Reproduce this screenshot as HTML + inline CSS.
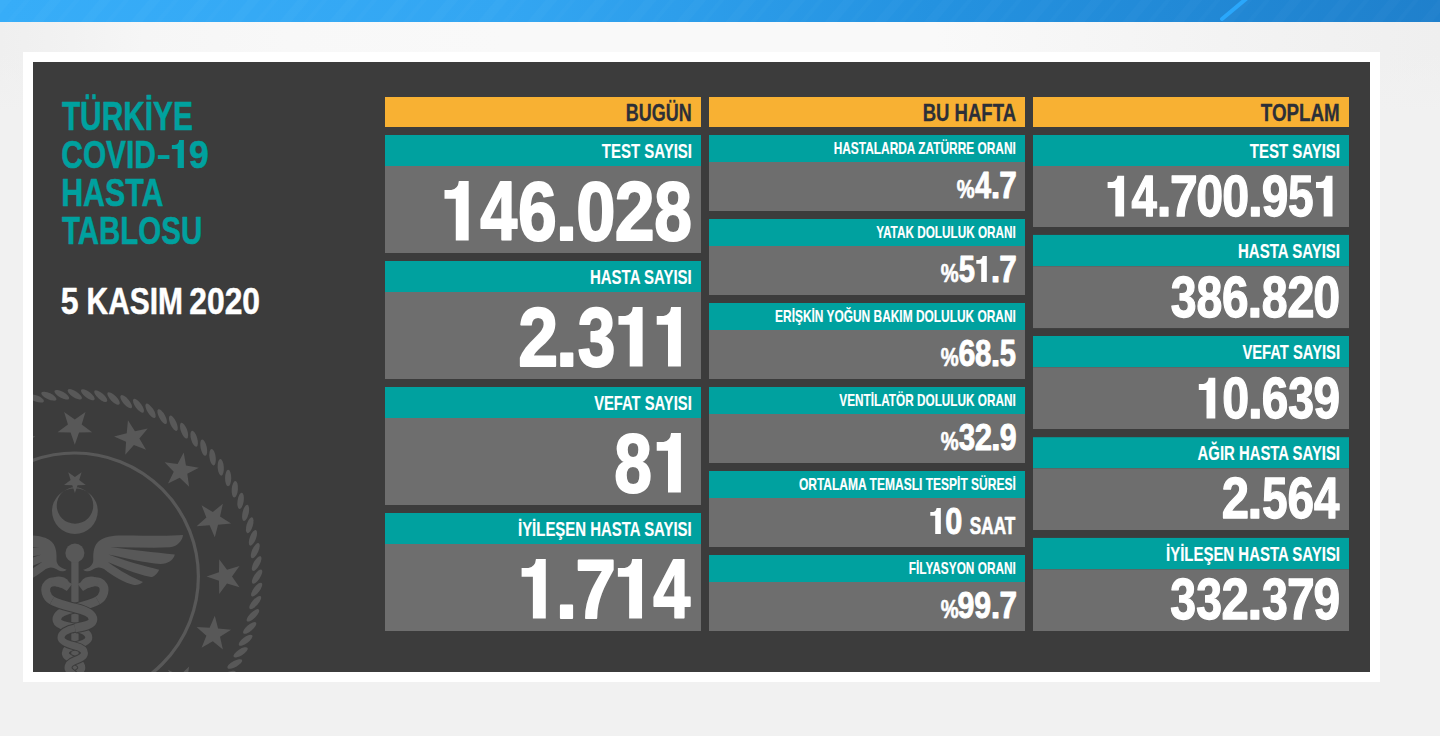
<!DOCTYPE html>
<html><head><meta charset="utf-8"><style>
html,body{margin:0;padding:0;width:1440px;height:736px;overflow:hidden;background:#f1f1f1;font-family:"Liberation Sans",sans-serif}
svg{display:block}
</style></head><body>
<svg width="1440" height="736" viewBox="0 0 1440 736" font-family="Liberation Sans" font-weight="bold">
<defs>
<linearGradient id="bar" x1="0" y1="0" x2="1" y2="0">
<stop offset="0" stop-color="#37adf8"/><stop offset="0.35" stop-color="#33a6f2"/><stop offset="0.65" stop-color="#2492e0"/><stop offset="1" stop-color="#1f80cc"/>
</linearGradient>
<linearGradient id="pg" x1="0" y1="0" x2="1" y2="0">
<stop offset="0" stop-color="#efefef"/><stop offset="0.05" stop-color="#f2f2f2"/><stop offset="0.1" stop-color="#f6f6f6"/><stop offset="0.2" stop-color="#f8f8f8"/><stop offset="0.35" stop-color="#f9f9f9"/><stop offset="0.65" stop-color="#f9f9f9"/><stop offset="0.75" stop-color="#f6f6f6"/><stop offset="0.85" stop-color="#f3f3f3"/><stop offset="1" stop-color="#efefef"/>
</linearGradient>
<linearGradient id="pgv" x1="0" y1="0" x2="0" y2="1">
<stop offset="0" stop-color="#f1f1f1" stop-opacity="0"/><stop offset="1" stop-color="#f1f1f1" stop-opacity="1"/>
</linearGradient>
<pattern id="stripes" patternUnits="userSpaceOnUse" width="38" height="38" patternTransform="rotate(40)">
<rect x="0" y="0" width="9" height="38" fill="#ffffff" fill-opacity="0.02"/><rect x="19" y="0" width="4" height="38" fill="#ffffff" fill-opacity="0.015"/>
</pattern>
<clipPath id="panel"><rect x="33" y="62" width="1337" height="610"/></clipPath>
</defs>
<rect x="0" y="0" width="1440" height="736" fill="#f1f1f1"/>
<rect x="0" y="21" width="1440" height="90" fill="url(#pg)"/>
<rect x="0" y="52" width="1440" height="60" fill="url(#pgv)"/>
<rect x="0" y="0" width="1440" height="22" fill="url(#bar)"/>
<rect x="0" y="0" width="1440" height="22" fill="url(#stripes)"/>
<line x1="1222" y1="19" x2="1246" y2="-1" stroke="#2aa7fb" stroke-width="4" stroke-linecap="round"/>
<rect x="23" y="52" width="1357" height="630" fill="#ffffff"/>
<rect x="33" y="62" width="1337" height="610" fill="#3c3c3c"/>
<g clip-path="url(#panel)"><g fill="#585858"><ellipse cx="257.10" cy="576.60" rx="8.3" ry="3.1" transform="rotate(123.00 257.10 576.60)"/><ellipse cx="256.64" cy="589.61" rx="8.3" ry="3.1" transform="rotate(127.09 256.64 589.61)"/><ellipse cx="255.24" cy="602.54" rx="8.3" ry="3.1" transform="rotate(131.18 255.24 602.54)"/><ellipse cx="252.93" cy="615.35" rx="8.3" ry="3.1" transform="rotate(135.27 252.93 615.35)"/><ellipse cx="249.72" cy="627.96" rx="8.3" ry="3.1" transform="rotate(139.36 249.72 627.96)"/><ellipse cx="245.61" cy="640.31" rx="8.3" ry="3.1" transform="rotate(143.45 245.61 640.31)"/><ellipse cx="240.63" cy="652.33" rx="8.3" ry="3.1" transform="rotate(147.55 240.63 652.33)"/><ellipse cx="234.80" cy="663.97" rx="8.3" ry="3.1" transform="rotate(151.64 234.80 663.97)"/><ellipse cx="228.16" cy="675.16" rx="8.3" ry="3.1" transform="rotate(155.73 228.16 675.16)"/><ellipse cx="220.74" cy="685.85" rx="8.3" ry="3.1" transform="rotate(159.82 220.74 685.85)"/><ellipse cx="212.57" cy="695.98" rx="8.3" ry="3.1" transform="rotate(163.91 212.57 695.98)"/><ellipse cx="203.71" cy="705.51" rx="8.3" ry="3.1" transform="rotate(168.00 203.71 705.51)"/><ellipse cx="194.18" cy="714.37" rx="8.3" ry="3.1" transform="rotate(172.09 194.18 714.37)"/><ellipse cx="184.05" cy="722.54" rx="8.3" ry="3.1" transform="rotate(176.18 184.05 722.54)"/><ellipse cx="173.36" cy="729.96" rx="8.3" ry="3.1" transform="rotate(180.27 173.36 729.96)"/><ellipse cx="162.17" cy="736.60" rx="8.3" ry="3.1" transform="rotate(184.36 162.17 736.60)"/><ellipse cx="150.53" cy="742.43" rx="8.3" ry="3.1" transform="rotate(188.45 150.53 742.43)"/><ellipse cx="138.51" cy="747.41" rx="8.3" ry="3.1" transform="rotate(192.55 138.51 747.41)"/><ellipse cx="126.16" cy="751.52" rx="8.3" ry="3.1" transform="rotate(196.64 126.16 751.52)"/><ellipse cx="113.55" cy="754.73" rx="8.3" ry="3.1" transform="rotate(200.73 113.55 754.73)"/><ellipse cx="100.74" cy="757.04" rx="8.3" ry="3.1" transform="rotate(204.82 100.74 757.04)"/><ellipse cx="87.81" cy="758.44" rx="8.3" ry="3.1" transform="rotate(208.91 87.81 758.44)"/><ellipse cx="74.80" cy="758.90" rx="8.3" ry="3.1" transform="rotate(213.00 74.80 758.90)"/><ellipse cx="61.79" cy="758.44" rx="8.3" ry="3.1" transform="rotate(217.09 61.79 758.44)"/><ellipse cx="48.86" cy="757.04" rx="8.3" ry="3.1" transform="rotate(221.18 48.86 757.04)"/><ellipse cx="36.05" cy="754.73" rx="8.3" ry="3.1" transform="rotate(225.27 36.05 754.73)"/><ellipse cx="23.44" cy="751.52" rx="8.3" ry="3.1" transform="rotate(229.36 23.44 751.52)"/><ellipse cx="11.09" cy="747.41" rx="8.3" ry="3.1" transform="rotate(233.45 11.09 747.41)"/><ellipse cx="-0.93" cy="742.43" rx="8.3" ry="3.1" transform="rotate(237.55 -0.93 742.43)"/><ellipse cx="-12.57" cy="736.60" rx="8.3" ry="3.1" transform="rotate(241.64 -12.57 736.60)"/><ellipse cx="-23.76" cy="729.96" rx="8.3" ry="3.1" transform="rotate(245.73 -23.76 729.96)"/><ellipse cx="-34.45" cy="722.54" rx="8.3" ry="3.1" transform="rotate(249.82 -34.45 722.54)"/><ellipse cx="-44.58" cy="714.37" rx="8.3" ry="3.1" transform="rotate(253.91 -44.58 714.37)"/><ellipse cx="-54.11" cy="705.51" rx="8.3" ry="3.1" transform="rotate(258.00 -54.11 705.51)"/><ellipse cx="-62.97" cy="695.98" rx="8.3" ry="3.1" transform="rotate(262.09 -62.97 695.98)"/><ellipse cx="-71.14" cy="685.85" rx="8.3" ry="3.1" transform="rotate(266.18 -71.14 685.85)"/><ellipse cx="-78.56" cy="675.16" rx="8.3" ry="3.1" transform="rotate(270.27 -78.56 675.16)"/><ellipse cx="-85.20" cy="663.97" rx="8.3" ry="3.1" transform="rotate(274.36 -85.20 663.97)"/><ellipse cx="-91.03" cy="652.33" rx="8.3" ry="3.1" transform="rotate(278.45 -91.03 652.33)"/><ellipse cx="-96.01" cy="640.31" rx="8.3" ry="3.1" transform="rotate(282.55 -96.01 640.31)"/><ellipse cx="-100.12" cy="627.96" rx="8.3" ry="3.1" transform="rotate(286.64 -100.12 627.96)"/><ellipse cx="-103.33" cy="615.35" rx="8.3" ry="3.1" transform="rotate(290.73 -103.33 615.35)"/><ellipse cx="-105.64" cy="602.54" rx="8.3" ry="3.1" transform="rotate(294.82 -105.64 602.54)"/><ellipse cx="-107.04" cy="589.61" rx="8.3" ry="3.1" transform="rotate(298.91 -107.04 589.61)"/><ellipse cx="-107.50" cy="576.60" rx="8.3" ry="3.1" transform="rotate(303.00 -107.50 576.60)"/><ellipse cx="-107.04" cy="563.59" rx="8.3" ry="3.1" transform="rotate(307.09 -107.04 563.59)"/><ellipse cx="-105.64" cy="550.66" rx="8.3" ry="3.1" transform="rotate(311.18 -105.64 550.66)"/><ellipse cx="-103.33" cy="537.85" rx="8.3" ry="3.1" transform="rotate(315.27 -103.33 537.85)"/><ellipse cx="-100.12" cy="525.24" rx="8.3" ry="3.1" transform="rotate(319.36 -100.12 525.24)"/><ellipse cx="-96.01" cy="512.89" rx="8.3" ry="3.1" transform="rotate(323.45 -96.01 512.89)"/><ellipse cx="-91.03" cy="500.87" rx="8.3" ry="3.1" transform="rotate(327.55 -91.03 500.87)"/><ellipse cx="-85.20" cy="489.23" rx="8.3" ry="3.1" transform="rotate(331.64 -85.20 489.23)"/><ellipse cx="-78.56" cy="478.04" rx="8.3" ry="3.1" transform="rotate(335.73 -78.56 478.04)"/><ellipse cx="-71.14" cy="467.35" rx="8.3" ry="3.1" transform="rotate(339.82 -71.14 467.35)"/><ellipse cx="-62.97" cy="457.22" rx="8.3" ry="3.1" transform="rotate(343.91 -62.97 457.22)"/><ellipse cx="-54.11" cy="447.69" rx="8.3" ry="3.1" transform="rotate(348.00 -54.11 447.69)"/><ellipse cx="-44.58" cy="438.83" rx="8.3" ry="3.1" transform="rotate(352.09 -44.58 438.83)"/><ellipse cx="-34.45" cy="430.66" rx="8.3" ry="3.1" transform="rotate(356.18 -34.45 430.66)"/><ellipse cx="-23.76" cy="423.24" rx="8.3" ry="3.1" transform="rotate(360.27 -23.76 423.24)"/><ellipse cx="-12.57" cy="416.60" rx="8.3" ry="3.1" transform="rotate(364.36 -12.57 416.60)"/><ellipse cx="-0.93" cy="410.77" rx="8.3" ry="3.1" transform="rotate(368.45 -0.93 410.77)"/><ellipse cx="11.09" cy="405.79" rx="8.3" ry="3.1" transform="rotate(372.55 11.09 405.79)"/><ellipse cx="23.44" cy="401.68" rx="8.3" ry="3.1" transform="rotate(376.64 23.44 401.68)"/><ellipse cx="36.05" cy="398.47" rx="8.3" ry="3.1" transform="rotate(380.73 36.05 398.47)"/><ellipse cx="48.86" cy="396.16" rx="8.3" ry="3.1" transform="rotate(384.82 48.86 396.16)"/><ellipse cx="61.79" cy="394.76" rx="8.3" ry="3.1" transform="rotate(388.91 61.79 394.76)"/><ellipse cx="74.80" cy="394.30" rx="8.3" ry="3.1" transform="rotate(393.00 74.80 394.30)"/><ellipse cx="87.81" cy="394.76" rx="8.3" ry="3.1" transform="rotate(397.09 87.81 394.76)"/><ellipse cx="100.74" cy="396.16" rx="8.3" ry="3.1" transform="rotate(401.18 100.74 396.16)"/><ellipse cx="113.55" cy="398.47" rx="8.3" ry="3.1" transform="rotate(405.27 113.55 398.47)"/><ellipse cx="126.16" cy="401.68" rx="8.3" ry="3.1" transform="rotate(409.36 126.16 401.68)"/><ellipse cx="138.51" cy="405.79" rx="8.3" ry="3.1" transform="rotate(413.45 138.51 405.79)"/><ellipse cx="150.53" cy="410.77" rx="8.3" ry="3.1" transform="rotate(417.55 150.53 410.77)"/><ellipse cx="162.17" cy="416.60" rx="8.3" ry="3.1" transform="rotate(421.64 162.17 416.60)"/><ellipse cx="173.36" cy="423.24" rx="8.3" ry="3.1" transform="rotate(425.73 173.36 423.24)"/><ellipse cx="184.05" cy="430.66" rx="8.3" ry="3.1" transform="rotate(429.82 184.05 430.66)"/><ellipse cx="194.18" cy="438.83" rx="8.3" ry="3.1" transform="rotate(433.91 194.18 438.83)"/><ellipse cx="203.71" cy="447.69" rx="8.3" ry="3.1" transform="rotate(438.00 203.71 447.69)"/><ellipse cx="212.57" cy="457.22" rx="8.3" ry="3.1" transform="rotate(442.09 212.57 457.22)"/><ellipse cx="220.74" cy="467.35" rx="8.3" ry="3.1" transform="rotate(446.18 220.74 467.35)"/><ellipse cx="228.16" cy="478.04" rx="8.3" ry="3.1" transform="rotate(450.27 228.16 478.04)"/><ellipse cx="234.80" cy="489.23" rx="8.3" ry="3.1" transform="rotate(454.36 234.80 489.23)"/><ellipse cx="240.63" cy="500.87" rx="8.3" ry="3.1" transform="rotate(458.45 240.63 500.87)"/><ellipse cx="245.61" cy="512.89" rx="8.3" ry="3.1" transform="rotate(462.55 245.61 512.89)"/><ellipse cx="249.72" cy="525.24" rx="8.3" ry="3.1" transform="rotate(466.64 249.72 525.24)"/><ellipse cx="252.93" cy="537.85" rx="8.3" ry="3.1" transform="rotate(470.73 252.93 537.85)"/><ellipse cx="255.24" cy="550.66" rx="8.3" ry="3.1" transform="rotate(474.82 255.24 550.66)"/><ellipse cx="256.64" cy="563.59" rx="8.3" ry="3.1" transform="rotate(478.91 256.64 563.59)"/><circle cx="74.8" cy="576.6" r="123.6" fill="none" stroke="#585858" stroke-width="3.2"/><polygon points="74.80,444.80 70.57,432.42 57.49,432.22 67.95,424.38 64.10,411.88 74.80,419.40 85.50,411.88 81.65,424.38 92.11,432.22 79.03,432.42"/><polygon points="125.24,454.83 126.06,441.78 114.06,436.59 126.73,433.34 127.95,420.32 134.96,431.37 147.72,428.51 139.38,438.58 146.04,449.84 133.88,445.02"/><polygon points="168.00,483.40 173.75,471.66 164.65,462.27 177.60,464.12 183.71,452.56 185.96,465.44 198.84,467.69 187.28,473.80 189.13,486.75 179.74,477.65"/><polygon points="196.57,526.16 206.38,517.52 201.56,505.36 212.82,512.02 222.89,503.68 220.03,516.44 231.08,523.45 218.06,524.67 214.81,537.34 209.62,525.34"/><polygon points="206.60,576.60 218.98,572.37 219.18,559.29 227.02,569.75 239.52,565.90 232.00,576.60 239.52,587.30 227.02,583.45 219.18,593.91 218.98,580.83"/><polygon points="196.57,627.04 209.62,627.86 214.81,615.86 218.06,628.53 231.08,629.75 220.03,636.76 222.89,649.52 212.82,641.18 201.56,647.84 206.38,635.68"/><polygon points="168.00,669.80 179.74,675.55 189.13,666.45 187.28,679.40 198.84,685.51 185.96,687.76 183.71,700.64 177.60,689.08 164.65,690.93 173.75,681.54"/><polygon points="125.24,698.37 133.88,708.18 146.04,703.36 139.38,714.62 147.72,724.69 134.96,721.83 127.95,732.88 126.73,719.86 114.06,716.61 126.06,711.42"/><polygon points="74.80,708.40 79.03,720.78 92.11,720.98 81.65,728.82 85.50,741.32 74.80,733.80 64.10,741.32 67.95,728.82 57.49,720.98 70.57,720.78"/><polygon points="24.36,698.37 23.54,711.42 35.54,716.61 22.87,719.86 21.65,732.88 14.64,721.83 1.88,724.69 10.22,714.62 3.56,703.36 15.72,708.18"/><polygon points="-18.40,669.80 -24.15,681.54 -15.05,690.93 -28.00,689.08 -34.11,700.64 -36.36,687.76 -49.24,685.51 -37.68,679.40 -39.53,666.45 -30.14,675.55"/><polygon points="-46.97,627.04 -56.78,635.68 -51.96,647.84 -63.22,641.18 -73.29,649.52 -70.43,636.76 -81.48,629.75 -68.46,628.53 -65.21,615.86 -60.02,627.86"/><polygon points="-57.00,576.60 -69.38,580.83 -69.58,593.91 -77.42,583.45 -89.92,587.30 -82.40,576.60 -89.92,565.90 -77.42,569.75 -69.58,559.29 -69.38,572.37"/><polygon points="-46.97,526.16 -60.02,525.34 -65.21,537.34 -68.46,524.67 -81.48,523.45 -70.43,516.44 -73.29,503.68 -63.22,512.02 -51.96,505.36 -56.78,517.52"/><polygon points="-18.40,483.40 -30.14,477.65 -39.53,486.75 -37.68,473.80 -49.24,467.69 -36.36,465.44 -34.11,452.56 -28.00,464.12 -15.05,462.27 -24.15,471.66"/><polygon points="24.36,454.83 15.72,445.02 3.56,449.84 10.22,438.58 1.88,428.51 14.64,431.37 21.65,420.32 22.87,433.34 35.54,436.59 23.54,441.78"/><polygon points="74.90,492.90 72.25,485.14 64.06,485.02 70.62,480.11 68.20,472.28 74.90,477.00 81.60,472.28 79.18,480.11 85.74,485.02 77.55,485.14"/><path fill-rule="evenodd" d="M 52.0 511.1 A 22.9 22.9 0 1 0 97.8 511.1 A 22.9 22.9 0 1 0 52.0 511.1 Z M 56.75 505.5 A 18.25 18.25 0 1 0 93.25 505.5 A 18.25 18.25 0 1 0 56.75 505.5 Z"/><rect x="71.3" y="555" width="7.3" height="130"/><circle cx="74.9" cy="553" r="9.5"/><path d="M 83.1,569.7 C 89,568.5 93.5,565 93.3,559.5 C 93,552 94,545 99,541 C 104,537 112,535.5 121,535.4 C 140,535.2 165,536.5 183,535 C 182.5,541 177,546.5 170,547.3 C 150,548.5 130,546.8 110.2,547.3 C 130,549.5 155,552.5 174.8,554.5 C 174,559.5 168,564 160.6,564 C 145,563 125,558 108.3,554.5 C 125,561 145,566 159.1,569.7 C 157.5,573.5 154,576.8 151,577.1 C 135,574 120,567 107.8,562.1 C 120,571 133,578 143,582 C 140.5,584.5 137,585.2 134,584.9 C 125,583.5 113,576 104,569 C 100,566.5 96,567 92,570 C 89,572 85.5,571.5 83.1,569.7 Z"/><path d="M 83.1,569.7 C 89,568.5 93.5,565 93.3,559.5 C 93,552 94,545 99,541 C 104,537 112,535.5 121,535.4 C 140,535.2 165,536.5 183,535 C 182.5,541 177,546.5 170,547.3 C 150,548.5 130,546.8 110.2,547.3 C 130,549.5 155,552.5 174.8,554.5 C 174,559.5 168,564 160.6,564 C 145,563 125,558 108.3,554.5 C 125,561 145,566 159.1,569.7 C 157.5,573.5 154,576.8 151,577.1 C 135,574 120,567 107.8,562.1 C 120,571 133,578 143,582 C 140.5,584.5 137,585.2 134,584.9 C 125,583.5 113,576 104,569 C 100,566.5 96,567 92,570 C 89,572 85.5,571.5 83.1,569.7 Z" transform="translate(149.8,0) scale(-1,1)"/><path d="M 52 600.5 C 59 604.5, 67 606, 75 608 C 84 610, 93 613.5, 93 619.5 C 93 625, 83 626.5, 75 628" fill="none" stroke="#3c3c3c" stroke-width="10.5" stroke-linecap="butt" transform="translate(149.8,0) scale(-1,1)"/><path d="M 75 628 C 67 629.5, 61 633, 61 637.5 C 61 642, 69 644.5, 75 646 C 81 647.5, 84.5 649.5, 84.5 653 C 84.5 657, 79 659, 75 660.5 C 71 662, 68 664.5, 68 668 C 68 671, 72 673, 75 676" fill="none" stroke="#3c3c3c" stroke-width="9" transform="translate(149.8,0) scale(-1,1)"/><path d="M 52 600.5 C 59 604.5, 67 606, 75 608 C 84 610, 93 613.5, 93 619.5 C 93 625, 83 626.5, 75 628" fill="none" stroke="#585858" stroke-width="8.6" stroke-linecap="butt" transform="translate(149.8,0) scale(-1,1)"/><path d="M 69.5 587.5 C 63 582.5, 53 579.5, 48 584 C 43.5 588.5, 46 597, 52 600.5" fill="none" stroke="#585858" stroke-width="8.8" stroke-linecap="butt" transform="translate(149.8,0) scale(-1,1)"/><path d="M 75 628 C 67 629.5, 61 633, 61 637.5 C 61 642, 69 644.5, 75 646 C 81 647.5, 84.5 649.5, 84.5 653 C 84.5 657, 79 659, 75 660.5 C 71 662, 68 664.5, 68 668 C 68 671, 72 673, 75 676" fill="none" stroke="#585858" stroke-width="7" transform="translate(149.8,0) scale(-1,1)"/><path d="M 52 600.5 C 59 604.5, 67 606, 75 608 C 84 610, 93 613.5, 93 619.5 C 93 625, 83 626.5, 75 628" fill="none" stroke="#3c3c3c" stroke-width="10.5" stroke-linecap="butt" /><path d="M 75 628 C 67 629.5, 61 633, 61 637.5 C 61 642, 69 644.5, 75 646 C 81 647.5, 84.5 649.5, 84.5 653 C 84.5 657, 79 659, 75 660.5 C 71 662, 68 664.5, 68 668 C 68 671, 72 673, 75 676" fill="none" stroke="#3c3c3c" stroke-width="9" /><path d="M 52 600.5 C 59 604.5, 67 606, 75 608 C 84 610, 93 613.5, 93 619.5 C 93 625, 83 626.5, 75 628" fill="none" stroke="#585858" stroke-width="8.6" stroke-linecap="butt" /><path d="M 69.5 587.5 C 63 582.5, 53 579.5, 48 584 C 43.5 588.5, 46 597, 52 600.5" fill="none" stroke="#585858" stroke-width="8.8" stroke-linecap="butt" /><path d="M 75 628 C 67 629.5, 61 633, 61 637.5 C 61 642, 69 644.5, 75 646 C 81 647.5, 84.5 649.5, 84.5 653 C 84.5 657, 79 659, 75 660.5 C 71 662, 68 664.5, 68 668 C 68 671, 72 673, 75 676" fill="none" stroke="#585858" stroke-width="7" /><ellipse cx="60" cy="582" rx="9" ry="5.3" transform="rotate(8 60 582)"/><ellipse cx="89.8" cy="582" rx="9" ry="5.3" transform="rotate(-8 89.8 582)"/></g></g>
<rect x="385" y="97" width="316" height="30" fill="#f8b133"/><rect x="709" y="97" width="316" height="30" fill="#f8b133"/><rect x="1033" y="97" width="316" height="30" fill="#f8b133"/><rect x="385" y="135" width="316" height="31" fill="#00a19f"/><rect x="385" y="166" width="316" height="87" fill="#6e6e6e"/><rect x="385" y="261" width="316" height="31" fill="#00a19f"/><rect x="385" y="292" width="316" height="87" fill="#6e6e6e"/><rect x="385" y="387" width="316" height="31" fill="#00a19f"/><rect x="385" y="418" width="316" height="87" fill="#6e6e6e"/><rect x="385" y="513" width="316" height="31" fill="#00a19f"/><rect x="385" y="544" width="316" height="87" fill="#6e6e6e"/><rect x="709" y="135" width="316" height="27" fill="#00a19f"/><rect x="709" y="162" width="316" height="49" fill="#6e6e6e"/><rect x="709" y="219" width="316" height="27" fill="#00a19f"/><rect x="709" y="246" width="316" height="49" fill="#6e6e6e"/><rect x="709" y="303" width="316" height="27" fill="#00a19f"/><rect x="709" y="330" width="316" height="49" fill="#6e6e6e"/><rect x="709" y="387" width="316" height="27" fill="#00a19f"/><rect x="709" y="414" width="316" height="49" fill="#6e6e6e"/><rect x="709" y="471" width="316" height="27" fill="#00a19f"/><rect x="709" y="498" width="316" height="49" fill="#6e6e6e"/><rect x="709" y="555" width="316" height="27" fill="#00a19f"/><rect x="709" y="582" width="316" height="49" fill="#6e6e6e"/><rect x="1033" y="135" width="316" height="31" fill="#00a19f"/><rect x="1033" y="166" width="316" height="61" fill="#6e6e6e"/><rect x="1033" y="234.9" width="316" height="31.3" fill="#00a19f"/><rect x="1033" y="266.2" width="316" height="61.9" fill="#6e6e6e"/><rect x="1033" y="336.0" width="316" height="31.2" fill="#00a19f"/><rect x="1033" y="367.2" width="316" height="61.8" fill="#6e6e6e"/><rect x="1033" y="437.2" width="316" height="31.1" fill="#00a19f"/><rect x="1033" y="468.3" width="316" height="61.7" fill="#6e6e6e"/><rect x="1033" y="537.9" width="316" height="31.4" fill="#00a19f"/><rect x="1033" y="569.3" width="316" height="61.7" fill="#6e6e6e"/>
<text x="61.90" y="129.70" font-size="39.86" textLength="130.97" lengthAdjust="spacingAndGlyphs" fill="#00a19f" stroke="#00a19f" stroke-width="0.60" stroke-linejoin="round">TÜRKİYE</text><text x="61.30" y="167.70" font-size="39.14" textLength="94.65" lengthAdjust="spacingAndGlyphs" fill="#00a19f" stroke="#00a19f" stroke-width="0.60" stroke-linejoin="round">COVID</text><text x="189.06" y="167.90" font-size="39.71" textLength="19.72" lengthAdjust="spacingAndGlyphs" fill="#00a19f" stroke="#00a19f" stroke-width="0.60" stroke-linejoin="round">9</text><text x="61.13" y="205.60" font-size="39.00" textLength="102.29" lengthAdjust="spacingAndGlyphs" fill="#00a19f" stroke="#00a19f" stroke-width="0.60" stroke-linejoin="round">HASTA</text><text x="61.91" y="243.70" font-size="39.29" textLength="140.28" lengthAdjust="spacingAndGlyphs" fill="#00a19f" stroke="#00a19f" stroke-width="0.60" stroke-linejoin="round">TABLOSU</text><text x="60.69" y="313.75" font-size="36.96" textLength="17.80" lengthAdjust="spacingAndGlyphs" fill="#ffffff" stroke="#ffffff" stroke-width="0.50" stroke-linejoin="round">5</text><text x="86.61" y="313.75" font-size="36.43" textLength="96.25" lengthAdjust="spacingAndGlyphs" fill="#ffffff" stroke="#ffffff" stroke-width="0.50" stroke-linejoin="round">KASIM</text><text x="189.34" y="313.75" font-size="36.43" textLength="70.67" lengthAdjust="spacingAndGlyphs" fill="#ffffff" stroke="#ffffff" stroke-width="0.50" stroke-linejoin="round">2020</text><text x="625.78" y="120.65" font-size="23.71" textLength="65.86" lengthAdjust="spacingAndGlyphs" fill="#2c2f38" stroke="#2c2f38" stroke-width="0.30" stroke-linejoin="round">BUGÜN</text><text x="922.70" y="120.65" font-size="23.91" textLength="93.34" lengthAdjust="spacingAndGlyphs" fill="#2c2f38" stroke="#2c2f38" stroke-width="0.30" stroke-linejoin="round">BU HAFTA</text><text x="1260.76" y="120.65" font-size="23.57" textLength="78.98" lengthAdjust="spacingAndGlyphs" fill="#2c2f38" stroke="#2c2f38" stroke-width="0.30" stroke-linejoin="round">TOPLAM</text><text x="601.83" y="157.93" font-size="20.36" textLength="90.18" lengthAdjust="spacingAndGlyphs" fill="#ffffff" stroke="#ffffff" stroke-width="0.15" stroke-linejoin="round">TEST SAYISI</text><text x="590.00" y="283.93" font-size="20.36" textLength="101.74" lengthAdjust="spacingAndGlyphs" fill="#ffffff" stroke="#ffffff" stroke-width="0.15" stroke-linejoin="round">HASTA SAYISI</text><text x="594.13" y="409.93" font-size="20.36" textLength="97.61" lengthAdjust="spacingAndGlyphs" fill="#ffffff" stroke="#ffffff" stroke-width="0.15" stroke-linejoin="round">VEFAT SAYISI</text><text x="518.00" y="535.92" font-size="20.36" textLength="173.73" lengthAdjust="spacingAndGlyphs" fill="#ffffff" stroke="#ffffff" stroke-width="0.15" stroke-linejoin="round">İYİLEŞEN HASTA SAYISI</text><text x="833.70" y="153.73" font-size="15.79" textLength="182.14" lengthAdjust="spacingAndGlyphs" fill="#ffffff" stroke="#ffffff" stroke-width="0.15" stroke-linejoin="round">HASTALARDA ZATÜRRE ORANI</text><text x="876.24" y="237.73" font-size="15.79" textLength="139.55" lengthAdjust="spacingAndGlyphs" fill="#ffffff" stroke="#ffffff" stroke-width="0.15" stroke-linejoin="round">YATAK DOLULUK ORANI</text><text x="775.10" y="321.73" font-size="15.79" textLength="240.75" lengthAdjust="spacingAndGlyphs" fill="#ffffff" stroke="#ffffff" stroke-width="0.15" stroke-linejoin="round">ERİŞKİN YOĞUN BAKIM DOLULUK ORANI</text><text x="839.36" y="405.73" font-size="15.79" textLength="176.44" lengthAdjust="spacingAndGlyphs" fill="#ffffff" stroke="#ffffff" stroke-width="0.15" stroke-linejoin="round">VENTİLATÖR DOLULUK ORANI</text><text x="798.89" y="489.73" font-size="15.79" textLength="216.92" lengthAdjust="spacingAndGlyphs" fill="#ffffff" stroke="#ffffff" stroke-width="0.15" stroke-linejoin="round">ORTALAMA TEMASLI TESPİT SÜRESİ</text><text x="908.81" y="573.72" font-size="15.79" textLength="107.04" lengthAdjust="spacingAndGlyphs" fill="#ffffff" stroke="#ffffff" stroke-width="0.15" stroke-linejoin="round">FİLYASYON ORANI</text><text x="956.75" y="197.85" font-size="25.47" textLength="17.89" lengthAdjust="spacingAndGlyphs" fill="#ffffff" stroke="#ffffff" stroke-width="0.70" stroke-linejoin="round">%</text><text x="940.75" y="281.85" font-size="25.47" textLength="17.89" lengthAdjust="spacingAndGlyphs" fill="#ffffff" stroke="#ffffff" stroke-width="0.70" stroke-linejoin="round">%</text><text x="940.75" y="365.85" font-size="25.47" textLength="17.89" lengthAdjust="spacingAndGlyphs" fill="#ffffff" stroke="#ffffff" stroke-width="0.70" stroke-linejoin="round">%</text><text x="940.75" y="449.85" font-size="25.47" textLength="17.89" lengthAdjust="spacingAndGlyphs" fill="#ffffff" stroke="#ffffff" stroke-width="0.70" stroke-linejoin="round">%</text><text x="940.75" y="617.85" font-size="25.47" textLength="17.89" lengthAdjust="spacingAndGlyphs" fill="#ffffff" stroke="#ffffff" stroke-width="0.70" stroke-linejoin="round">%</text><text x="969.83" y="533.65" font-size="24.57" textLength="45.55" lengthAdjust="spacingAndGlyphs" fill="#ffffff" stroke="#ffffff" stroke-width="0.70" stroke-linejoin="round">SAAT</text><text x="1249.83" y="157.83" font-size="20.21" textLength="90.18" lengthAdjust="spacingAndGlyphs" fill="#ffffff" stroke="#ffffff" stroke-width="0.15" stroke-linejoin="round">TEST SAYISI</text><text x="1238.00" y="257.73" font-size="20.21" textLength="102.04" lengthAdjust="spacingAndGlyphs" fill="#ffffff" stroke="#ffffff" stroke-width="0.15" stroke-linejoin="round">HASTA SAYISI</text><text x="1242.43" y="358.82" font-size="20.21" textLength="97.61" lengthAdjust="spacingAndGlyphs" fill="#ffffff" stroke="#ffffff" stroke-width="0.15" stroke-linejoin="round">VEFAT SAYISI</text><text x="1197.60" y="460.02" font-size="20.21" textLength="142.40" lengthAdjust="spacingAndGlyphs" fill="#ffffff" stroke="#ffffff" stroke-width="0.15" stroke-linejoin="round">AĞIR HASTA SAYISI</text><text x="1166.00" y="560.72" font-size="20.21" textLength="174.03" lengthAdjust="spacingAndGlyphs" fill="#ffffff" stroke="#ffffff" stroke-width="0.15" stroke-linejoin="round">İYİLEŞEN HASTA SAYISI</text><text x="480.13" y="239.60" font-size="83.62" textLength="37.02" lengthAdjust="spacingAndGlyphs" fill="#ffffff" stroke="#ffffff" stroke-width="2.00" stroke-linejoin="round">4</text><text x="518.08" y="239.60" font-size="83.62" textLength="38.78" lengthAdjust="spacingAndGlyphs" fill="#ffffff" stroke="#ffffff" stroke-width="2.00" stroke-linejoin="round">6</text><text x="555.56" y="239.60" font-size="83.62" textLength="22.10" lengthAdjust="spacingAndGlyphs" fill="#ffffff" stroke="#ffffff" stroke-width="2.00" stroke-linejoin="round">.</text><text x="576.36" y="239.60" font-size="83.62" textLength="39.25" lengthAdjust="spacingAndGlyphs" fill="#ffffff" stroke="#ffffff" stroke-width="2.00" stroke-linejoin="round">0</text><text x="614.72" y="239.60" font-size="83.62" textLength="39.88" lengthAdjust="spacingAndGlyphs" fill="#ffffff" stroke="#ffffff" stroke-width="2.00" stroke-linejoin="round">2</text><text x="654.15" y="239.60" font-size="83.62" textLength="37.66" lengthAdjust="spacingAndGlyphs" fill="#ffffff" stroke="#ffffff" stroke-width="2.00" stroke-linejoin="round">8</text><text x="518.19" y="365.60" font-size="83.62" textLength="39.88" lengthAdjust="spacingAndGlyphs" fill="#ffffff" stroke="#ffffff" stroke-width="2.00" stroke-linejoin="round">2</text><text x="555.87" y="365.60" font-size="83.62" textLength="22.10" lengthAdjust="spacingAndGlyphs" fill="#ffffff" stroke="#ffffff" stroke-width="2.00" stroke-linejoin="round">.</text><text x="577.64" y="365.60" font-size="83.62" textLength="37.66" lengthAdjust="spacingAndGlyphs" fill="#ffffff" stroke="#ffffff" stroke-width="2.00" stroke-linejoin="round">3</text><text x="614.37" y="491.60" font-size="83.62" textLength="37.66" lengthAdjust="spacingAndGlyphs" fill="#ffffff" stroke="#ffffff" stroke-width="2.00" stroke-linejoin="round">8</text><text x="555.44" y="617.60" font-size="83.62" textLength="22.10" lengthAdjust="spacingAndGlyphs" fill="#ffffff" stroke="#ffffff" stroke-width="2.00" stroke-linejoin="round">.</text><text x="575.42" y="617.60" font-size="83.62" textLength="40.45" lengthAdjust="spacingAndGlyphs" fill="#ffffff" stroke="#ffffff" stroke-width="2.00" stroke-linejoin="round">7</text><text x="653.19" y="617.60" font-size="83.62" textLength="37.02" lengthAdjust="spacingAndGlyphs" fill="#ffffff" stroke="#ffffff" stroke-width="2.00" stroke-linejoin="round">4</text><text x="975.02" y="197.55" font-size="36.38" textLength="16.09" lengthAdjust="spacingAndGlyphs" fill="#ffffff" stroke="#ffffff" stroke-width="0.90" stroke-linejoin="round">4</text><text x="990.73" y="197.55" font-size="36.38" textLength="9.57" lengthAdjust="spacingAndGlyphs" fill="#ffffff" stroke="#ffffff" stroke-width="0.90" stroke-linejoin="round">.</text><text x="999.13" y="197.55" font-size="36.38" textLength="17.58" lengthAdjust="spacingAndGlyphs" fill="#ffffff" stroke="#ffffff" stroke-width="0.90" stroke-linejoin="round">7</text><text x="958.78" y="281.55" font-size="36.38" textLength="16.21" lengthAdjust="spacingAndGlyphs" fill="#ffffff" stroke="#ffffff" stroke-width="0.90" stroke-linejoin="round">5</text><text x="990.80" y="281.55" font-size="36.38" textLength="9.57" lengthAdjust="spacingAndGlyphs" fill="#ffffff" stroke="#ffffff" stroke-width="0.90" stroke-linejoin="round">.</text><text x="999.23" y="281.55" font-size="36.38" textLength="17.58" lengthAdjust="spacingAndGlyphs" fill="#ffffff" stroke="#ffffff" stroke-width="0.90" stroke-linejoin="round">7</text><text x="958.49" y="365.55" font-size="36.38" textLength="16.86" lengthAdjust="spacingAndGlyphs" fill="#ffffff" stroke="#ffffff" stroke-width="0.90" stroke-linejoin="round">6</text><text x="974.99" y="365.55" font-size="36.38" textLength="16.37" lengthAdjust="spacingAndGlyphs" fill="#ffffff" stroke="#ffffff" stroke-width="0.90" stroke-linejoin="round">8</text><text x="990.69" y="365.55" font-size="36.38" textLength="9.57" lengthAdjust="spacingAndGlyphs" fill="#ffffff" stroke="#ffffff" stroke-width="0.90" stroke-linejoin="round">.</text><text x="999.71" y="365.55" font-size="36.38" textLength="16.21" lengthAdjust="spacingAndGlyphs" fill="#ffffff" stroke="#ffffff" stroke-width="0.90" stroke-linejoin="round">5</text><text x="958.81" y="449.55" font-size="36.38" textLength="16.37" lengthAdjust="spacingAndGlyphs" fill="#ffffff" stroke="#ffffff" stroke-width="0.90" stroke-linejoin="round">3</text><text x="974.68" y="449.55" font-size="36.38" textLength="17.33" lengthAdjust="spacingAndGlyphs" fill="#ffffff" stroke="#ffffff" stroke-width="0.90" stroke-linejoin="round">2</text><text x="990.90" y="449.55" font-size="36.38" textLength="9.57" lengthAdjust="spacingAndGlyphs" fill="#ffffff" stroke="#ffffff" stroke-width="0.90" stroke-linejoin="round">.</text><text x="999.79" y="449.55" font-size="36.38" textLength="16.86" lengthAdjust="spacingAndGlyphs" fill="#ffffff" stroke="#ffffff" stroke-width="0.90" stroke-linejoin="round">9</text><text x="957.59" y="617.55" font-size="36.38" textLength="16.86" lengthAdjust="spacingAndGlyphs" fill="#ffffff" stroke="#ffffff" stroke-width="0.90" stroke-linejoin="round">9</text><text x="974.34" y="617.55" font-size="36.38" textLength="16.86" lengthAdjust="spacingAndGlyphs" fill="#ffffff" stroke="#ffffff" stroke-width="0.90" stroke-linejoin="round">9</text><text x="990.65" y="617.55" font-size="36.38" textLength="9.57" lengthAdjust="spacingAndGlyphs" fill="#ffffff" stroke="#ffffff" stroke-width="0.90" stroke-linejoin="round">.</text><text x="999.43" y="617.55" font-size="36.38" textLength="17.58" lengthAdjust="spacingAndGlyphs" fill="#ffffff" stroke="#ffffff" stroke-width="0.90" stroke-linejoin="round">7</text><text x="945.35" y="533.55" font-size="36.38" textLength="17.06" lengthAdjust="spacingAndGlyphs" fill="#ffffff" stroke="#ffffff" stroke-width="0.90" stroke-linejoin="round">0</text><text x="1131.52" y="215.95" font-size="57.25" textLength="25.37" lengthAdjust="spacingAndGlyphs" fill="#ffffff" stroke="#ffffff" stroke-width="1.30" stroke-linejoin="round">4</text><text x="1156.43" y="215.95" font-size="57.25" textLength="15.24" lengthAdjust="spacingAndGlyphs" fill="#ffffff" stroke="#ffffff" stroke-width="1.30" stroke-linejoin="round">.</text><text x="1169.97" y="215.95" font-size="57.25" textLength="27.72" lengthAdjust="spacingAndGlyphs" fill="#ffffff" stroke="#ffffff" stroke-width="1.30" stroke-linejoin="round">7</text><text x="1196.30" y="215.95" font-size="57.25" textLength="26.90" lengthAdjust="spacingAndGlyphs" fill="#ffffff" stroke="#ffffff" stroke-width="1.30" stroke-linejoin="round">0</text><text x="1222.22" y="215.95" font-size="57.25" textLength="26.90" lengthAdjust="spacingAndGlyphs" fill="#ffffff" stroke="#ffffff" stroke-width="1.30" stroke-linejoin="round">0</text><text x="1247.66" y="215.95" font-size="57.25" textLength="15.24" lengthAdjust="spacingAndGlyphs" fill="#ffffff" stroke="#ffffff" stroke-width="1.30" stroke-linejoin="round">.</text><text x="1261.77" y="215.95" font-size="57.25" textLength="26.58" lengthAdjust="spacingAndGlyphs" fill="#ffffff" stroke="#ffffff" stroke-width="1.30" stroke-linejoin="round">9</text><text x="1288.09" y="215.95" font-size="57.25" textLength="25.56" lengthAdjust="spacingAndGlyphs" fill="#ffffff" stroke="#ffffff" stroke-width="1.30" stroke-linejoin="round">5</text><text x="1170.69" y="317.05" font-size="57.25" textLength="25.82" lengthAdjust="spacingAndGlyphs" fill="#ffffff" stroke="#ffffff" stroke-width="1.30" stroke-linejoin="round">3</text><text x="1196.42" y="317.05" font-size="57.25" textLength="25.82" lengthAdjust="spacingAndGlyphs" fill="#ffffff" stroke="#ffffff" stroke-width="1.30" stroke-linejoin="round">8</text><text x="1222.00" y="317.05" font-size="57.25" textLength="26.58" lengthAdjust="spacingAndGlyphs" fill="#ffffff" stroke="#ffffff" stroke-width="1.30" stroke-linejoin="round">6</text><text x="1247.32" y="317.05" font-size="57.25" textLength="15.24" lengthAdjust="spacingAndGlyphs" fill="#ffffff" stroke="#ffffff" stroke-width="1.30" stroke-linejoin="round">.</text><text x="1261.85" y="317.05" font-size="57.25" textLength="25.82" lengthAdjust="spacingAndGlyphs" fill="#ffffff" stroke="#ffffff" stroke-width="1.30" stroke-linejoin="round">8</text><text x="1287.18" y="317.05" font-size="57.25" textLength="27.33" lengthAdjust="spacingAndGlyphs" fill="#ffffff" stroke="#ffffff" stroke-width="1.30" stroke-linejoin="round">2</text><text x="1313.24" y="317.05" font-size="57.25" textLength="26.90" lengthAdjust="spacingAndGlyphs" fill="#ffffff" stroke="#ffffff" stroke-width="1.30" stroke-linejoin="round">0</text><text x="1222.19" y="417.95" font-size="57.25" textLength="26.90" lengthAdjust="spacingAndGlyphs" fill="#ffffff" stroke="#ffffff" stroke-width="1.30" stroke-linejoin="round">0</text><text x="1247.64" y="417.95" font-size="57.25" textLength="15.24" lengthAdjust="spacingAndGlyphs" fill="#ffffff" stroke="#ffffff" stroke-width="1.30" stroke-linejoin="round">.</text><text x="1261.75" y="417.95" font-size="57.25" textLength="26.58" lengthAdjust="spacingAndGlyphs" fill="#ffffff" stroke="#ffffff" stroke-width="1.30" stroke-linejoin="round">6</text><text x="1288.29" y="417.95" font-size="57.25" textLength="25.82" lengthAdjust="spacingAndGlyphs" fill="#ffffff" stroke="#ffffff" stroke-width="1.30" stroke-linejoin="round">3</text><text x="1313.60" y="417.95" font-size="57.25" textLength="26.58" lengthAdjust="spacingAndGlyphs" fill="#ffffff" stroke="#ffffff" stroke-width="1.30" stroke-linejoin="round">9</text><text x="1221.73" y="517.85" font-size="57.25" textLength="27.33" lengthAdjust="spacingAndGlyphs" fill="#ffffff" stroke="#ffffff" stroke-width="1.30" stroke-linejoin="round">2</text><text x="1247.35" y="517.85" font-size="57.25" textLength="15.24" lengthAdjust="spacingAndGlyphs" fill="#ffffff" stroke="#ffffff" stroke-width="1.30" stroke-linejoin="round">.</text><text x="1261.93" y="517.85" font-size="57.25" textLength="25.56" lengthAdjust="spacingAndGlyphs" fill="#ffffff" stroke="#ffffff" stroke-width="1.30" stroke-linejoin="round">5</text><text x="1287.56" y="517.85" font-size="57.25" textLength="26.58" lengthAdjust="spacingAndGlyphs" fill="#ffffff" stroke="#ffffff" stroke-width="1.30" stroke-linejoin="round">6</text><text x="1313.96" y="517.85" font-size="57.25" textLength="25.37" lengthAdjust="spacingAndGlyphs" fill="#ffffff" stroke="#ffffff" stroke-width="1.30" stroke-linejoin="round">4</text><text x="1170.29" y="619.35" font-size="57.25" textLength="25.82" lengthAdjust="spacingAndGlyphs" fill="#ffffff" stroke="#ffffff" stroke-width="1.30" stroke-linejoin="round">3</text><text x="1196.36" y="619.35" font-size="57.25" textLength="25.82" lengthAdjust="spacingAndGlyphs" fill="#ffffff" stroke="#ffffff" stroke-width="1.30" stroke-linejoin="round">3</text><text x="1221.57" y="619.35" font-size="57.25" textLength="27.33" lengthAdjust="spacingAndGlyphs" fill="#ffffff" stroke="#ffffff" stroke-width="1.30" stroke-linejoin="round">2</text><text x="1247.22" y="619.35" font-size="57.25" textLength="15.24" lengthAdjust="spacingAndGlyphs" fill="#ffffff" stroke="#ffffff" stroke-width="1.30" stroke-linejoin="round">.</text><text x="1262.07" y="619.35" font-size="57.25" textLength="25.82" lengthAdjust="spacingAndGlyphs" fill="#ffffff" stroke="#ffffff" stroke-width="1.30" stroke-linejoin="round">3</text><text x="1286.95" y="619.35" font-size="57.25" textLength="27.72" lengthAdjust="spacingAndGlyphs" fill="#ffffff" stroke="#ffffff" stroke-width="1.30" stroke-linejoin="round">7</text><text x="1313.60" y="619.35" font-size="57.25" textLength="26.58" lengthAdjust="spacingAndGlyphs" fill="#ffffff" stroke="#ffffff" stroke-width="1.30" stroke-linejoin="round">9</text>
<rect x="157.8" y="155.1" width="11.6" height="3.9" fill="#00a19f"/><path d="M183.90,140.00 L183.90,168.00 L177.60,168.00 L177.60,149.10 L171.86,149.10 L171.86,145.04 L174.66,145.04 Q178.86,144.48 179.14,140.00 Z" fill="#00a19f"/><path d="M468.68,180.90 L468.68,240.60 L455.78,240.60 L455.78,198.81 L444.50,198.81 L444.50,189.97 L451.25,189.97 Q458.23,188.78 458.83,180.90 Z" fill="#ffffff"/><path d="M642.62,306.90 L642.62,366.60 L629.72,366.60 L629.72,324.81 L618.44,324.81 L618.44,315.97 L625.19,315.97 Q632.17,314.78 632.77,306.90 Z" fill="#ffffff"/><path d="M680.90,306.90 L680.90,366.60 L668.00,366.60 L668.00,324.81 L656.72,324.81 L656.72,315.97 L663.47,315.97 Q670.45,314.78 671.05,306.90 Z" fill="#ffffff"/><path d="M680.90,432.90 L680.90,492.60 L668.00,492.60 L668.00,450.81 L656.72,450.81 L656.72,441.97 L663.47,441.97 Q670.45,440.78 671.05,432.90 Z" fill="#ffffff"/><path d="M545.78,558.90 L545.78,618.60 L532.88,618.60 L532.88,576.81 L521.60,576.81 L521.60,567.97 L528.35,567.97 Q535.33,566.78 535.93,558.90 Z" fill="#ffffff"/><path d="M642.04,558.90 L642.04,618.60 L629.14,618.60 L629.14,576.81 L617.86,576.81 L617.86,567.97 L624.60,567.97 Q631.59,566.78 632.19,558.90 Z" fill="#ffffff"/><path d="M986.82,256.00 L986.82,282.00 L981.20,282.00 L981.20,263.80 L976.29,263.80 L976.29,259.95 L979.23,259.95 Q982.27,259.43 982.53,256.00 Z" fill="#ffffff"/><path d="M940.83,508.00 L940.83,534.00 L935.21,534.00 L935.21,515.80 L930.30,515.80 L930.30,511.95 L933.24,511.95 Q936.28,511.43 936.54,508.00 Z" fill="#ffffff"/><path d="M1124.12,175.80 L1124.12,216.60 L1115.31,216.60 L1115.31,188.04 L1107.60,188.04 L1107.60,182.00 L1112.21,182.00 Q1116.98,181.19 1117.39,175.80 Z" fill="#ffffff"/><path d="M1332.50,175.80 L1332.50,216.60 L1323.69,216.60 L1323.69,188.04 L1315.98,188.04 L1315.98,182.00 L1320.59,182.00 Q1325.36,181.19 1325.77,175.80 Z" fill="#ffffff"/><path d="M1215.32,377.80 L1215.32,418.60 L1206.51,418.60 L1206.51,390.04 L1198.80,390.04 L1198.80,384.00 L1203.41,384.00 Q1208.18,383.19 1208.59,377.80 Z" fill="#ffffff"/>
</svg>
</body></html>
